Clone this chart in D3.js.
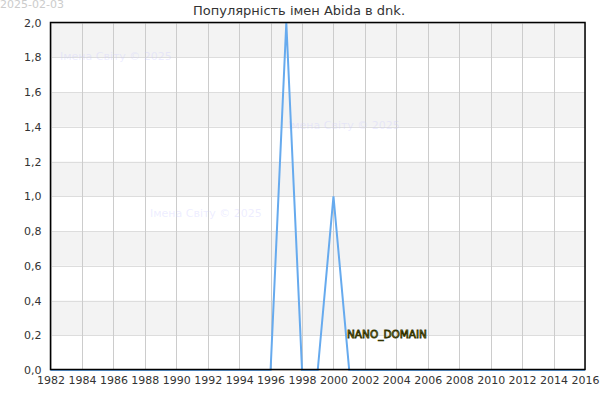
<!DOCTYPE html>
<html><head><meta charset="utf-8">
<script src="https://cdn.jsdelivr.net/npm/d3@7"></script>
<style>body{margin:0;background:#fff}svg{display:block}text{font-family:"DejaVu Sans",sans-serif}</style>
</head><body><svg id="c" width="600" height="400"></svg>
<script>
const years = [1982,1983,1984,1985,1986,1987,1988,1989,1990,1991,1992,1993,1994,1995,1996,1997,1998,1999,2000,2001,2002,2003,2004,2005,2006,2007,2008,2009,2010,2011,2012,2013,2014,2015,2016];
const values = [0,0,0,0,0,0,0,0,0,0,0,0,0,0,0,2,0,0,1,0,0,0,0,0,0,0,0,0,0,0,0,0,0,0,0];
const xTicks = [1982,1984,1986,1988,1990,1992,1994,1996,1998,2000,2002,2004,2006,2008,2010,2012,2014,2016];
const yTicks = [0,0.2,0.4,0.6,0.8,1.0,1.2,1.4,1.6,1.8,2.0];
const title = "Популярність імен Abida в dnk.";
const dateLabel = "2025-02-03";
const watermark = "Імена Світу © 2025";

const svg = d3.select("#c");
const L=50.5, R=585, T=22.5, B=370;
const x = d3.scaleLinear().domain([1982,2016]).range([L,R]);
const y = d3.scaleLinear().domain([0,2]).range([B,T]);

// bands
for (let i=0;i<yTicks.length-1;i++){
  if ((yTicks.length-2-i)%2===0){
    svg.append("rect").attr("x",L).attr("width",R-L)
      .attr("y",y(yTicks[i+1])).attr("height",y(yTicks[i])-y(yTicks[i+1]))
      .attr("fill","#f3f3f3");
  }
}
// horizontal grid
svg.append("g").selectAll("line").data(yTicks).join("line")
  .attr("x1",L).attr("x2",R).attr("y1",d=>Math.round(y(d))+0.5).attr("y2",d=>Math.round(y(d))+0.5)
  .attr("stroke","#dddddd").attr("stroke-width",1);
// vertical grid
svg.append("g").selectAll("line").data(xTicks).join("line")
  .attr("y1",T).attr("y2",B).attr("x1",d=>Math.round(x(d))+0.5).attr("x2",d=>Math.round(x(d))+0.5)
  .attr("stroke","#cccccc").attr("stroke-width",1);

// watermarks
const wm=[[60,60],[288,129],[150,217]];
svg.append("g").selectAll("text").data(wm).join("text")
  .attr("x",d=>d[0]).attr("y",d=>d[1]).text(watermark)
  .attr("font-size",11).attr("fill","#ccccff").attr("fill-opacity",0.35);

// line
const line = d3.line().x((d,i)=>x(years[i])).y(d=>y(d));
svg.append("path").datum(values).attr("d",line)
  .attr("fill","none").attr("stroke","#66aaee").attr("stroke-width",2);

// frame
svg.append("rect").attr("x",L).attr("y",T).attr("width",R-L).attr("height",B-T-0.5)
  .attr("fill","none").attr("stroke","#000").attr("stroke-width",1.5);

// axes labels
const xa = d3.axisBottom(x).tickValues(xTicks).tickFormat(d3.format("d")).tickSize(0).tickPadding(6);
const gx = svg.append("g").attr("transform",`translate(0,${B})`).call(xa);
gx.select(".domain").remove();
gx.selectAll("text").attr("font-size",11).attr("fill","#333").attr("font-family","DejaVu Sans, sans-serif");

const ya = d3.axisLeft(y).tickValues(yTicks).tickFormat(d=>d.toFixed(1).replace(".",",")).tickSize(0).tickPadding(9);
const gy = svg.append("g").attr("transform",`translate(${L},0)`).call(ya);
gy.select(".domain").remove();
gy.selectAll("text").attr("font-size",11).attr("fill","#333").attr("font-family","DejaVu Sans, sans-serif");

// title
svg.append("text").attr("x",299).attr("y",15).attr("text-anchor","middle")
  .attr("font-size",13).attr("fill","#333").text(title);
svg.append("text").attr("x",0).attr("y",8).attr("font-size",11).attr("fill","#cccccc").text(dateLabel);

// nano domain
svg.append("text").attr("x",347).attr("y",338).attr("font-size",10.5)
  .attr("fill","#b0b060").attr("stroke","#333300").attr("stroke-width",0.8).text("NANO_DOMAIN");
</script></body></html>
